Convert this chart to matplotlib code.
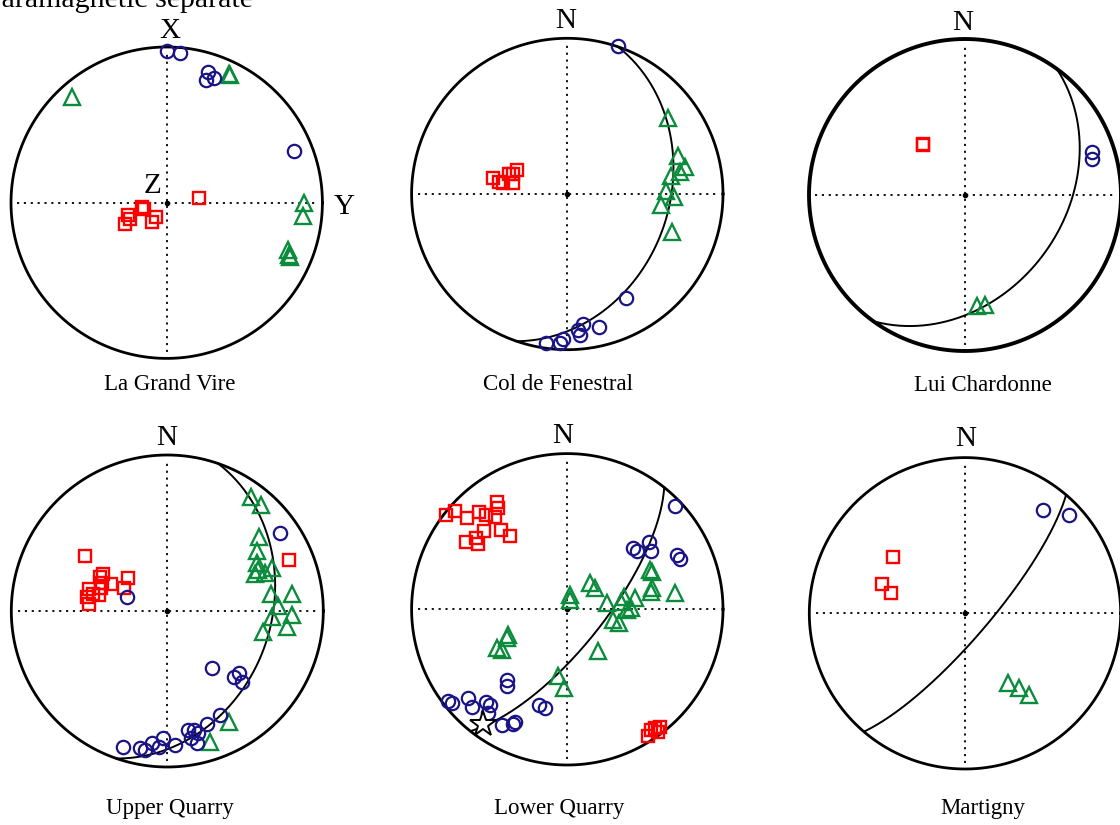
import numpy as np
import matplotlib
matplotlib.use("Agg")
import matplotlib.pyplot as plt

plt.rcParams["font.family"] = ["Liberation Serif", "DejaVu Serif"]

W, H = 1120, 825
NAVY = "#1a1488"
GREEN = "#0b8c3c"
RED = "#ff0000"

# projected (east, north) positions on a unit equal-area net, lower hemisphere
# ---- La Grand Vire (specimen coords X/Y/Z) ----
lgv_k1_e = [0.00, 0.086, 0.268, 0.251, 0.306, 0.818]
lgv_k1_n = [0.976, 0.964, 0.842, 0.788, 0.799, 0.332]
lgv_k2_e = [-0.606, 0.403, 0.407, 0.882, 0.874, 0.782, 0.788, 0.792]
lgv_k2_n = [0.681, 0.827, 0.818, -0.004, -0.086, -0.304, -0.336, -0.351]
lgv_k3_e = [0.208, -0.161, -0.146, -0.246, -0.236, -0.268, -0.069, -0.096]
lgv_k3_n = [0.028, -0.026, -0.043, -0.079, -0.107, -0.137, -0.094, -0.122]

# ---- Col de Fenestral ----
cdf_k1_e = [0.328, 0.375, 0.103, 0.206, 0.081, 0.066, -0.026, -0.047, -0.139]
cdf_k1_n = [0.951, -0.670, -0.837, -0.852, -0.906, -0.874, -0.934, -0.955, -0.959]
cdf_k2_e = [0.649, 0.709, 0.756, 0.724, 0.664, 0.632, 0.685, 0.600, 0.670]
cdf_k2_n = [0.486, 0.244, 0.176, 0.143, 0.118, 0.021, -0.017, -0.069, -0.242]
cdf_k3_e = [-0.475, -0.437, -0.411, -0.372, -0.347, -0.321, -0.347]
cdf_k3_n = [0.105, 0.079, 0.069, 0.128, 0.128, 0.152, 0.073]

# ---- Lui Chardonne ----
lc_k1_e = [0.816, 0.816]
lc_k1_n = [0.278, 0.231]
lc_k2_e = [0.075, 0.128]
lc_k2_n = [-0.712, -0.705]
lc_k3_e = [-0.269, -0.267]
lc_k3_n = [0.327, 0.318]

# ---- Upper Quarry ----
uq_k1_e = [0.722, -0.256, 0.288, 0.457, 0.427, 0.481, 0.338, 0.256, 0.135, 0.171,
           0.199, 0.150, 0.188, -0.030, 0.049, -0.053, -0.100, -0.175, -0.143, -0.286]
uq_k1_n = [0.498, 0.092, -0.363, -0.400, -0.425, -0.453, -0.669, -0.724, -0.763, -0.763,
           -0.784, -0.816, -0.844, -0.816, -0.859, -0.874, -0.848, -0.880, -0.891, -0.870]
uq_k2_e = [0.534, 0.598, 0.590, 0.577, 0.573, 0.583, 0.562, 0.626, 0.673, 0.662,
           0.797, 0.712, 0.799, 0.669, 0.769, 0.615, 0.397, 0.274]
uq_k2_n = [0.733, 0.679, 0.472, 0.385, 0.306, 0.263, 0.237, 0.246, 0.274, 0.109,
           0.109, 0.034, -0.026, -0.041, -0.100, -0.132, -0.712, -0.838]
uq_k3_e = [-0.528, 0.780, -0.410, -0.432, -0.417, -0.363, -0.250, -0.278, -0.500,
           -0.474, -0.438, -0.513, -0.500, -0.425]
uq_k3_n = [0.353, 0.327, 0.237, 0.220, 0.177, 0.173, 0.209, 0.145, 0.139,
           0.109, 0.103, 0.092, 0.043, 0.145]

# ---- Lower Quarry ----
lq_k1_e = [0.692, 0.424, 0.445, 0.527, 0.535, 0.707, 0.724, -0.385, -0.390, -0.769,
           -0.743, -0.636, -0.615, -0.522, -0.497, -0.507, -0.422, -0.336, -0.347,
           -0.180, -0.143]
lq_k1_n = [0.664, 0.396, 0.375, 0.435, 0.375, 0.349, 0.321, -0.454, -0.492, -0.587,
           -0.600, -0.572, -0.630, -0.593, -0.615, -0.668, -0.743, -0.722, -0.739,
           -0.615, -0.636]
lq_k2_e = [0.531, 0.546, 0.146, 0.178, 0.017, 0.017, 0.542, 0.535, 0.692, 0.364,
           0.435, 0.257, 0.343, 0.385, 0.407, 0.296, 0.334, -0.379, -0.390, -0.454,
           -0.422, 0.195, -0.062, -0.019]
lq_k2_n = [0.253, 0.242, 0.171, 0.135, 0.092, 0.060, 0.135, 0.109, 0.103, 0.081,
           0.071, 0.039, 0.049, -0.004, 0.006, -0.069, -0.090, -0.165, -0.186, -0.251,
           -0.261, -0.266, -0.426, -0.503]
lq_k3_e = [-0.779, -0.722, -0.642, -0.565, -0.522, -0.450, -0.443, -0.465, -0.535,
           -0.428, -0.368, -0.651, -0.587, -0.572, 0.520, 0.563, 0.595, 0.585, 0.535]
lq_k3_n = [0.606, 0.634, 0.585, 0.627, 0.606, 0.692, 0.649, 0.591, 0.505,
           0.510, 0.473, 0.433, 0.456, 0.420, -0.814, -0.764, -0.754, -0.786, -0.775]
lq_star_e = [-0.544]
lq_star_n = [-0.737]

# ---- Martigny ----
mt_k1_e = [0.503, 0.670]
mt_k1_n = [0.664, 0.632]
mt_k2_e = [0.278, 0.345, 0.413]
mt_k2_n = [-0.450, -0.482, -0.525]
mt_k3_e = [-0.460, -0.531, -0.478]
mt_k3_n = [0.364, 0.186, 0.133]

# foliation planes (strike, dip; right-hand rule)
planes = {"cdf": (19, 35), "lc": (36, 37), "uq": (19, 34), "lq": (38.5, 71), "mt": (40.5, 77.5)}


def great_circle(strike, dip, n=200):
    s, d = np.radians(strike), np.radians(dip)
    a = np.linspace(0, np.pi, n)
    sv = np.array([np.sin(s), np.cos(s), 0.0])
    dd = s + np.pi / 2
    dv = np.array([np.cos(d) * np.sin(dd), np.cos(d) * np.cos(dd), np.sin(d)])
    v = np.outer(np.cos(a), sv) + np.outer(np.sin(a), dv)
    plunge = np.arcsin(np.clip(v[:, 2], -1, 1))
    trend = np.arctan2(v[:, 0], v[:, 1])
    r = np.sqrt(2) * np.sin((np.pi / 2 - plunge) / 2)
    return r * np.sin(trend), r * np.cos(trend)


fig = plt.figure(figsize=(W / 100, H / 100), dpi=100)
L = 1.08


def net(cx, cy, R, lw=2.0):
    ax = fig.add_axes([(cx - R * L) / W, (H - cy - R * L) / H, 2 * R * L / W, 2 * R * L / H])
    ax.set_xlim(-L, L); ax.set_ylim(-L, L); ax.set_aspect("equal"); ax.axis("off")
    t = np.linspace(0, 2 * np.pi, 400)
    ax.plot(np.cos(t), np.sin(t), color="black", lw=lw, zorder=2)
    ax.plot([-0.96, 0.96], [0, 0], color="black", lw=1.3, ls=(0, (1.2, 2.6)), zorder=1)
    ax.plot([0, 0], [-0.96, 0.96], color="black", lw=1.3, ls=(0, (1.2, 2.6)), zorder=1)
    ax.plot([0], [0], "o", color="black", ms=3, zorder=1)
    return ax


def pts(ax, k1e, k1n, k2e, k2n, k3e, k3n):
    kw = dict(ls="none", mfc="none", clip_on=False, zorder=4)
    ax.plot(k3e, k3n, "s", mec=RED, ms=8.2, mew=1.7, **kw)
    ax.plot(k2e, k2n, "^", mec=GREEN, ms=11, mew=1.7, **kw)
    ax.plot(k1e, k1n, "o", mec=NAVY, ms=9.6, mew=1.6, **kw)


def gc(ax, key):
    x, y = great_circle(*planes[key])
    ax.plot(x, y, color="black", lw=1.4, zorder=3)


def label(x, y, s, size=16.5):
    fig.text(x / W, 1 - y / H, s, ha="center", va="baseline", fontsize=size)


# panel 1
ax = net(166.7, 202.7, 155.7)
pts(ax, lgv_k1_e, lgv_k1_n, lgv_k2_e, lgv_k2_n, lgv_k3_e, lgv_k3_n)
label(170, 38, "X", 21); label(344, 214, "Y", 21); label(153, 193, "Z", 21)
label(170, 390, "La Grand Vire")

# panel 2
ax = net(567.3, 194.0, 155.7)
gc(ax, "cdf")
pts(ax, cdf_k1_e, cdf_k1_n, cdf_k2_e, cdf_k2_n, cdf_k3_e, cdf_k3_n)
label(566, 28, "N", 21)
label(558, 390, "Col de Fenestral")

# panel 3
ax = net(965, 195, 156, lw=2.8)
gc(ax, "lc")
pts(ax, lc_k1_e, lc_k1_n, lc_k2_e, lc_k2_n, lc_k3_e, lc_k3_n)
label(963, 30, "N", 21)
label(983, 391, "Lui Chardonne")

# panel 4
ax = net(167.3, 611, 156)
gc(ax, "uq")
pts(ax, uq_k1_e, uq_k1_n, uq_k2_e, uq_k2_n, uq_k3_e, uq_k3_n)
label(167, 445, "N", 21)
label(170, 814, "Upper Quarry")

# panel 5
ax = net(567.3, 609.3, 155.7)
gc(ax, "lq")
pts(ax, lq_k1_e, lq_k1_n, lq_k2_e, lq_k2_n, lq_k3_e, lq_k3_n)
ax.plot(lq_star_e, lq_star_n, "*", mfc="white", mec="black", ms=19, mew=1.4, zorder=5)
label(563, 443, "N", 21)
label(559, 814, "Lower Quarry")

# panel 6
ax = net(965, 613.3, 155.7)
gc(ax, "mt")
pts(ax, mt_k1_e, mt_k1_n, mt_k2_e, mt_k2_n, mt_k3_e, mt_k3_n)
label(966, 446, "N", 21)
label(983, 814, "Martigny")

# title line, cut off at the top edge as in the source figure
fig.text(-15 / W, 1 - 7 / H, "Paramagnetic separate", ha="left", va="baseline", fontsize=21.5)

fig.savefig("out.png", dpi=100, facecolor="white")
